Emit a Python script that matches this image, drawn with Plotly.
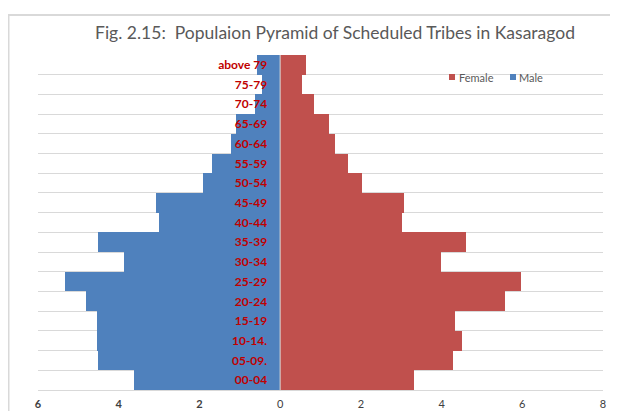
import plotly.graph_objects as go

age_groups = ["00-04", "05-09.", "10-14.", "15-19", "20-24", "25-29", "30-34", "35-39",
              "40-44", "45-49", "50-54", "55-59", "60-64", "65-69", "70-74", "75-79", "above 79"]
male = [3.61, 4.51, 4.53, 4.53, 4.80, 5.33, 3.87, 4.51, 2.99, 3.07, 1.91, 1.69, 1.22, 1.09, 0.62, 0.45, 0.57]
female = [3.32, 4.28, 4.50, 4.34, 5.58, 5.96, 3.99, 4.60, 3.01, 3.06, 2.02, 1.67, 1.35, 1.22, 0.84, 0.53, 0.65]
x_tick_vals = [-6, -4, -2, 0, 2, 4, 6, 8]
x_tick_text = ["<b>6</b>", "<b>4</b>", "<b>2</b>", "0", "2", "4", "6", "8"]

BLUE = "#4F81BD"
RED = "#C0504D"
FONT = "Lato"

# page body has an 8px margin; figure is sized to the visible area
OFF = 8
W, H = 618 - OFF, 411 - OFF
PL, PR, PT, PB = 38, 603, 55, 390  # plot area in page pixels
ML, MT = PL - OFF, PT - OFF
MR, MB = W - (PR - OFF), H - (PB - OFF)
PW, PH = PR - PL, PB - PT


def px(xp):
    return (xp - PL) / PW


def py(yp):
    return (PB - yp) / PH


fig = go.Figure()
fig.add_trace(go.Bar(y=age_groups, x=[-v for v in male], orientation="h", name="Male",
                     marker=dict(color=BLUE, line=dict(width=0)), showlegend=False))
fig.add_trace(go.Bar(y=age_groups, x=female, orientation="h", name="Female",
                     marker=dict(color=RED, line=dict(width=0)), showlegend=False))

xmin, xmax = -6, 8
legend_font = dict(family=FONT, size=11, color="#595959")
fig.update_layout(
    width=W, height=H,
    margin=dict(l=ML, r=MR, t=MT, b=MB, autoexpand=False),
    paper_bgcolor="white", plot_bgcolor="white",
    barmode="relative", bargap=0, showlegend=False,
    font=dict(family=FONT, color="#595959"),
    title=dict(text="Fig. 2.15:  Populaion Pyramid of Scheduled Tribes in Kasaragod",
               x=(335 - OFF) / W, xref="container", xanchor="center",
               y=1 - (33 - OFF) / H, yref="container", yanchor="middle",
               font=dict(family=FONT, size=17.5, color="#595959")),
    xaxis=dict(range=[xmin, xmax], tickvals=x_tick_vals, ticktext=x_tick_text,
               showgrid=False, zeroline=False, showline=True, linecolor="#d9d9d9",
               ticks="", ticklabelstandoff=4,
               tickfont=dict(family=FONT, size=11, color="#404040")),
    yaxis=dict(type="category", categoryorder="array", categoryarray=age_groups,
               tickson="boundaries", showgrid=True, gridcolor="#d9d9d9", gridwidth=1,
               anchor="free", position=(0 - xmin) / (xmax - xmin),
               ticks="", ticklabelstandoff=13, showline=False, zeroline=False,
               tickfont=dict(family=FONT, size=12, color="#C00000", weight="bold")),
    shapes=[
        dict(type="line", xref="x", yref="paper", x0=0, x1=0, y0=0, y1=1,
             line=dict(color="#d9d9d9", width=1), layer="above"),
        dict(type="rect", xref="paper", yref="paper",
             x0=px(OFF + 0.5), x1=1.2, y0=-0.3, y1=py(15),
             line=dict(color="#d9d9d9", width=2), layer="below"),
        # legend swatches
        dict(type="rect", xref="paper", yref="paper", x0=px(449), x1=px(455),
             y0=py(80), y1=py(74), fillcolor=RED, line=dict(width=0)),
        dict(type="rect", xref="paper", yref="paper", x0=px(510), x1=px(516),
             y0=py(80), y1=py(74), fillcolor=BLUE, line=dict(width=0)),
    ],
    annotations=[
        dict(text="Female", xref="paper", yref="paper", x=px(457), y=py(77),
             xanchor="left", yanchor="middle", showarrow=False, font=legend_font),
        dict(text="Male", xref="paper", yref="paper", x=px(517), y=py(77),
             xanchor="left", yanchor="middle", showarrow=False, font=legend_font),
    ],
)

fig.write_html("out.html")
